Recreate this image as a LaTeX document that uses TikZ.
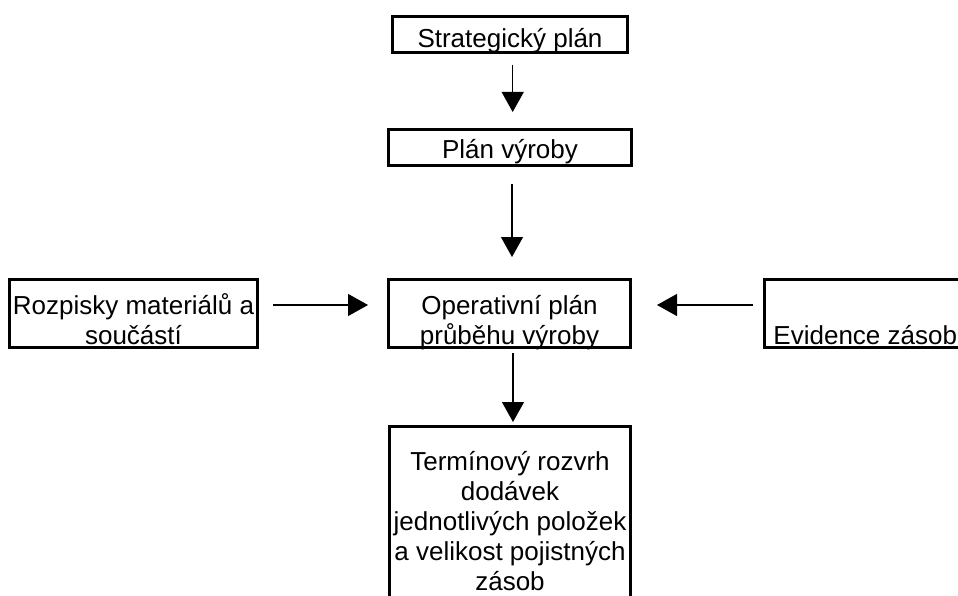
\documentclass[tikz,border=0pt]{standalone}
\usepackage{fontspec}
\setmainfont{Liberation Sans}
\usetikzlibrary{arrows.meta}
\newcommand{\boxtxt}[4]{\parbox[c][#2][t]{#1}{\centering\vspace*{#3}#4\par}}
\tikzset{
  box/.style={draw=black, line width=3pt, inner sep=0pt, outer sep=0pt,
              font=\fontsize{26}{30}\selectfont},
  arr/.style={draw=black, line width=1.2pt, -{Triangle[width=22pt,length=20pt]}}
}
\begin{document}
\begin{tikzpicture}[x=1pt,y=-1pt]
\useasboundingbox[fill=white] (0,0) rectangle (958,596);

\node[box] (strat) at (510,34.5)
  {\boxtxt{235pt}{36pt}{10pt}{\strut Strategický plán}};
\node[box] (plan) at (510,147.5)
  {\boxtxt{243pt}{36pt}{8.5pt}{\strut Plán výroby}};
\node[box] (rozp) at (133.5,313.5)
  {\boxtxt{248pt}{68pt}{13.5pt}{\strut Rozpisky materiálů a\\\strut součástí}};
\node[box] (oper) at (509.5,313.5)
  {\boxtxt{242pt}{68pt}{13.5pt}{\strut Operativní plán\\\strut průběhu výroby}};
\node[box] (evid) at (865.25,313.5)
  {\boxtxt{201.5pt}{68pt}{43.5pt}{\strut Evidence zásob}};
\node[box] (term) at (510,523.25)
  {\boxtxt{241pt}{193.5pt}{22.5pt}{\strut Termínový rozvrh\\\strut dodávek\\\strut jednotlivých položek\\\strut a velikost pojistných\\\strut zásob}};

\draw[arr, shorten <=12.5pt, shorten >=17.5pt]
  ([xshift=2.7pt]strat.south) -- ([xshift=2.7pt]strat.south |- plan.north);
\draw[arr, shorten <=18.5pt, shorten >=22.5pt]
  ([xshift=2pt]plan.south) -- ([xshift=2pt]plan.south |- oper.north);
\draw[arr, shorten <=15.5pt, shorten >=20.5pt]
  ([yshift=8.5pt]rozp.east) -- ([yshift=8.5pt]rozp.east -| oper.west);
\draw[arr, shorten <=11.5pt, shorten >=26.5pt]
  ([yshift=8.5pt]evid.west) -- ([yshift=8.5pt]evid.west -| oper.east);
\draw[arr, shorten <=5.5pt, shorten >=4.5pt]
  ([xshift=3.5pt]oper.south) -- ([xshift=3.5pt]oper.south |- term.north);
\end{tikzpicture}
\end{document}
